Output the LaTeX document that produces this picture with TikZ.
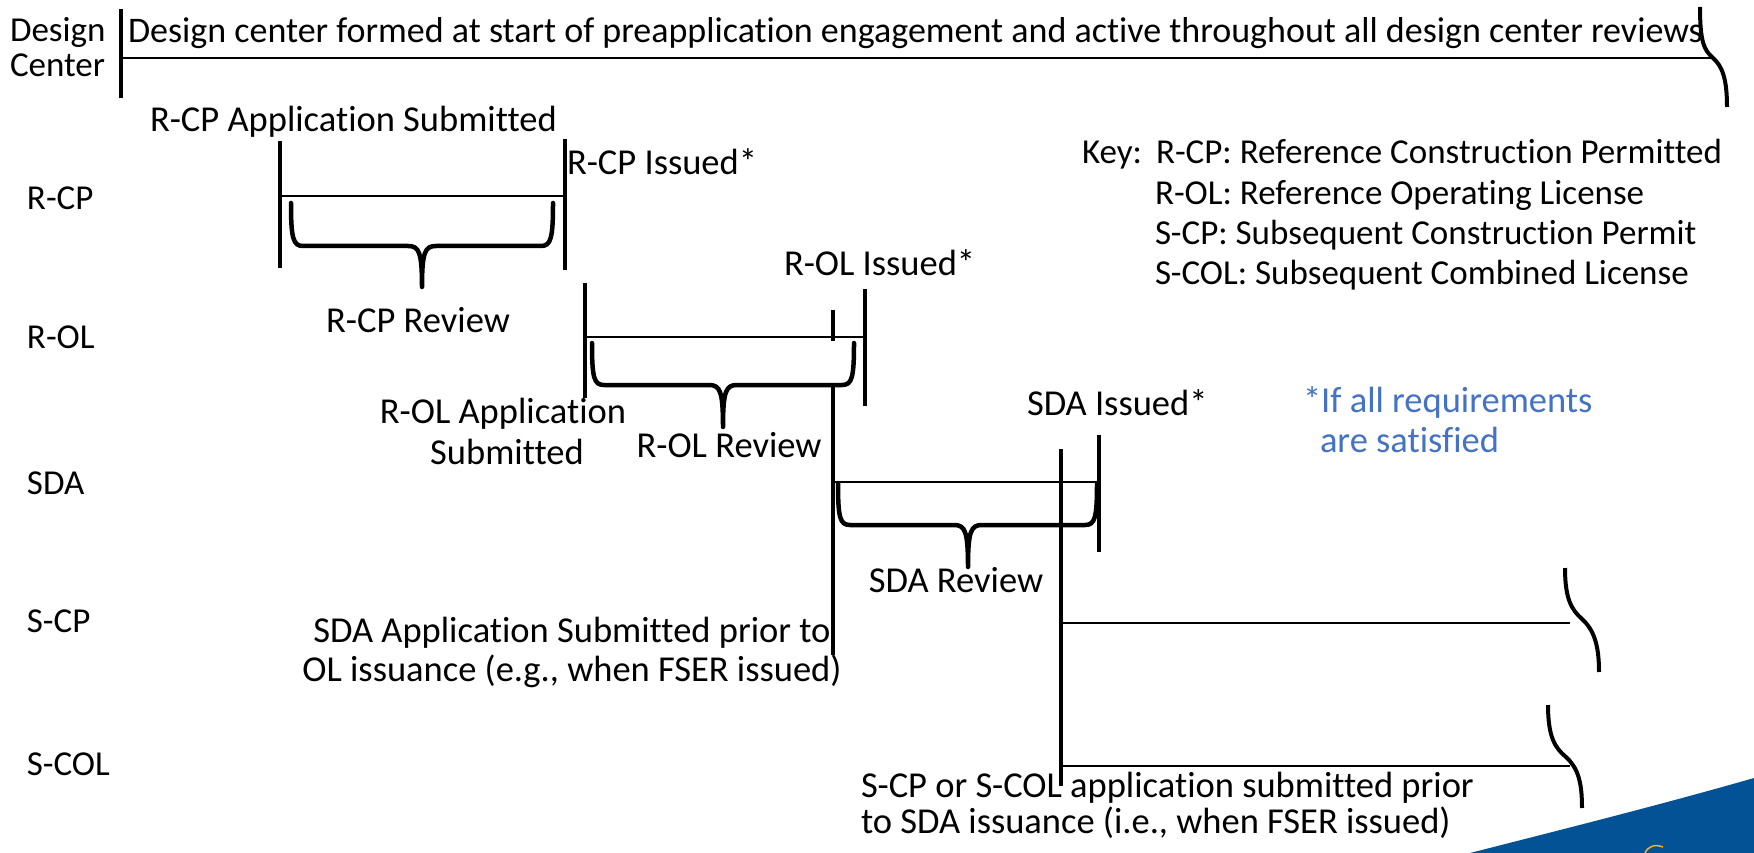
\documentclass[tikz,border=0pt]{standalone}
\usepackage{fontspec}
\setmainfont{Carlito}[Ligatures=NoCommon]
\definecolor{nrcblue}{RGB}{4,82,150}
\definecolor{noteblue}{RGB}{68,114,196}
\definecolor{logogold}{RGB}{238,178,50}
\begin{document}
\begin{tikzpicture}[x=1pt,y=-1pt,
  txt/.style={inner sep=0pt, outer sep=0pt, font=\fontsize{36.5}{40}\selectfont},
  keytxt/.style={inner sep=0pt, outer sep=0pt, anchor=base west, font=\fontsize{35}{40}\selectfont},
  lbl/.style={txt, anchor=base west},
  ctr/.style={txt, anchor=base},
  bar/.style={line width=4pt},
  hline/.style={line width=2pt},
  brc/.style={line width=4.5pt, line join=round, line cap=round},
  brk/.style={line width=4pt, line cap=butt},
]
\useasboundingbox (0,0) rectangle (1754,853);
\fill[white] (0,0) rectangle (1754,853);

% ---------- design center row
\node[keytxt] (dc1) at (10,42) {Design};
\node[keytxt] (dc2) at (10,77) {Center};
\coordinate (dcT) at (121,9);
\coordinate (dcB) at (121,98);
\draw[bar] (dcT) -- (dcB);
\node[txt, anchor=base west, font=\fontsize{36}{40}\selectfont] (dctext) at (128,43) {Design center formed at start of preapplication engagement and active throughout all design center reviews};
\coordinate (dcL) at (123,58);
\coordinate (dcK) at (1713,58);
\draw[line width=2.5pt] (dcL) -- (dcK);
\draw[brk] (1700,7) .. controls (1700,42) and (1704,50) .. (dcK) .. controls (1722,66) and (1727,78) .. (1727,107);

% ---------- row labels
\node[keytxt] (lrcp) at (27,210) {R-CP};
\node[keytxt] (lrol) at (27,348) {R-OL};
\node[keytxt] (lsda) at (27,494) {SDA};
\node[keytxt] (lscp) at (27,632) {S-CP};
\node[keytxt] (lscol) at (27,775) {S-COL};

% ---------- key
\node[keytxt] (key) at (1082,164) {Key:};
\node[keytxt] (k1) at (1156,164) {R-CP: Reference Construction Permitted};
\node[keytxt] (k2) at (1155,205) {R-OL: Reference Operating License};
\node[keytxt] (k3) at (1155,245) {S-CP: Subsequent Construction Permit};
\node[keytxt] (k4) at (1155,284) {S-COL: Subsequent Combined License};

% ---------- R-CP
\node[lbl] (rcpsub) at (150,132) {R-CP Application Submitted};
\node[lbl] (rcpiss) at (567,175) {R-CP Issued*};
\coordinate (rcpLT) at (280,141); \coordinate (rcpLB) at (280,268);
\coordinate (rcpRT) at (565,139); \coordinate (rcpRB) at (565,270);
\coordinate (rcpHL) at (280,196); \coordinate (rcpHR) at (565,196);
\draw[bar] (rcpLT) -- (rcpLB);
\draw[bar] (rcpRT) -- (rcpRB);
\draw[hline] (rcpHL) -- (rcpHR);
\draw[brc] (291,203) .. controls (291,238) and (293,246) .. (303,246) -- (408,246)
  .. controls (419,246) and (422,252) .. (422,287)
  .. controls (422,252) and (425,246) .. (436,246) -- (541,246)
  .. controls (551,246) and (553,238) .. (553,203);
\node[ctr] (rcprev) at (418,332) {R-CP Review};

% ---------- R-OL
\node[lbl] (roliss) at (784,276) {R-OL Issued*};
\coordinate (rolLT) at (585,283); \coordinate (rolLB) at (585,398);
\coordinate (rolRT) at (865,289); \coordinate (rolRB) at (865,406);
\coordinate (rolHL) at (585,337); \coordinate (rolHR) at (865,337);
\coordinate (tickT) at (833,310); \coordinate (tickB) at (833,341);
\draw[bar] (rolLT) -- (rolLB);
\draw[bar] (rolRT) -- (rolRB);
\draw[hline] (rolHL) -- (rolHR);
\draw[bar] (tickT) -- (tickB);
\draw[brc] (592,343) .. controls (592,378) and (594,385) .. (604,385) -- (709,385)
  .. controls (720,385) and (723,391) .. (723,427)
  .. controls (723,391) and (726,385) .. (737,385) -- (842,385)
  .. controls (852,385) and (854,378) .. (854,343);
\node[ctr] (rolsub1) at (503,423) {R-OL Application};
\node[ctr] (rolsub2) at (507,464) {Submitted};
\node[ctr] (rolrev) at (729,457) {R-OL Review};

% ---------- SDA
\coordinate (sdasT) at (833,385); \coordinate (sdasB) at (833,655);
\draw[bar] (sdasT) -- (sdasB);
\node[lbl] (sdaiss) at (1027,415) {SDA Issued*};
\coordinate (sdaRT) at (1099,435); \coordinate (sdaRB) at (1099,552);
\coordinate (sdaHL) at (833,482); \coordinate (sdaHR) at (1099,482);
\draw[bar] (sdaRT) -- (sdaRB);
\draw[line width=1.5pt] (sdaHL) -- (sdaHR);
\draw[brc] (838,483) .. controls (838,518) and (840,525) .. (850,525) -- (954,525)
  .. controls (965,525) and (968,531) .. (968,567)
  .. controls (968,531) and (971,525) .. (982,525) -- (1085,525)
  .. controls (1095,525) and (1097,518) .. (1097,483);
\node[ctr] (sdarev) at (956,592) {SDA Review};
\node[lbl, text=noteblue] (note1) at (1303,412) {*If all requirements};
\node[lbl, text=noteblue] (note2) at (1320,452) {are satisfied};
\node[ctr] (sdasub1) at (572,642) {SDA Application Submitted prior to};
\node[ctr] (sdasub2) at (572,681) {OL issuance (e.g., when FSER issued)};

% ---------- S-CP / S-COL
\coordinate (sT) at (1061,449); \coordinate (sB) at (1061,786);
\draw[bar] (sT) -- (sB);
\coordinate (scpL) at (1061,623); \coordinate (scpR) at (1570,623);
\draw[hline] (scpL) -- (scpR);
\draw[brk] (1565,568) .. controls (1565,600) and (1572,610) .. (1582,619)
  .. controls (1594,630) and (1599,645) .. (1599,672);
\coordinate (scolL) at (1061,766); \coordinate (scolR) at (1570,766);
\draw[hline] (scolL) -- (scolR);
\draw[brk] (1548,705) .. controls (1548,737) and (1555,748) .. (1566,757)
  .. controls (1578,768) and (1582,782) .. (1582,808);
\node[lbl] (ssub1) at (861,797) {S-CP or S-COL application submitted prior};
\node[lbl] (ssub2) at (861,833) {to SDA issuance (i.e., when FSER issued)};

% ---------- logo swoosh
\fill[nrcblue] (1470,853) .. controls (1560,830) and (1660,805) .. (1754,778) -- (1754,853) -- cycle;
\draw[logogold, line width=1.5pt] (1645,853) .. controls (1648,846) and (1655,844) .. (1663,847);
\end{tikzpicture}
\end{document}
